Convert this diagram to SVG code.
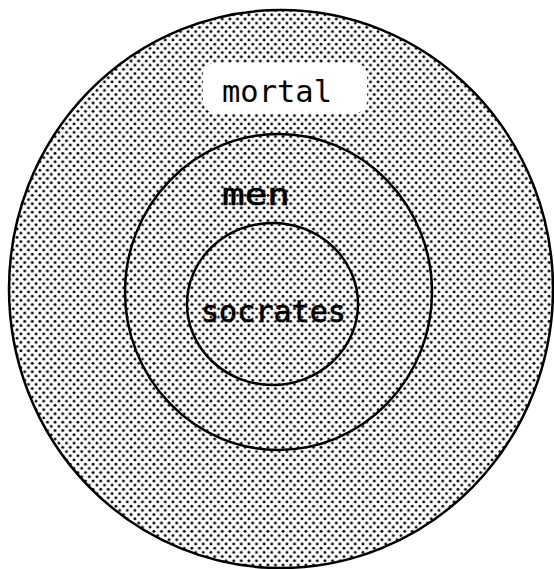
<svg xmlns="http://www.w3.org/2000/svg" width="554" height="569" viewBox="0 0 554 569">
  <style>
    .ring { fill: url(#dots); stroke: #000; stroke-width: 2.5; }
    .lbl { font-family: "DejaVu Sans Mono", "Liberation Mono", monospace; font-size: 30px; fill: #000; }
    .inner { stroke: #000; stroke-width: 0.6; }
  </style>
  <defs>
    <pattern id="dots" patternUnits="userSpaceOnUse" width="7.6" height="8.4">
      <rect width="7.6" height="8.4" fill="#fff"/>
      <circle cx="1.9" cy="2.1" r="1.45" fill="#000"/>
      <circle cx="5.7" cy="6.3" r="1.45" fill="#000"/>
    </pattern>
  </defs>
  <rect width="554" height="569" fill="#fff"/>
  <g id="mortal">
    <ellipse class="ring" cx="281" cy="289" rx="272" ry="279"/>
    <rect x="203" y="63" width="164" height="50" rx="12" fill="#fff"/>
    <text class="lbl" x="222" y="102" textLength="110" lengthAdjust="spacingAndGlyphs">mortal</text>
  </g>
  <g id="men">
    <ellipse class="ring" cx="278.5" cy="292" rx="153.5" ry="158"/>
    <text class="lbl inner" x="222" y="205" textLength="68" lengthAdjust="spacingAndGlyphs">men</text>
  </g>
  <g id="socrates">
    <ellipse class="ring" cx="272.5" cy="304" rx="85.5" ry="81"/>
    <text class="lbl inner" x="201" y="322" textLength="145" lengthAdjust="spacingAndGlyphs">socrates</text>
  </g>
  <g id="connectors"/>
</svg>
